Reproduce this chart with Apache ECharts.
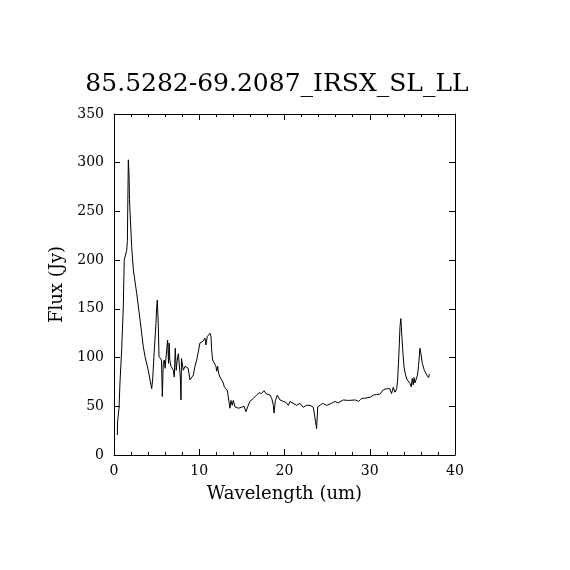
<!DOCTYPE html>
<html>
<head>
<meta charset="utf-8">
<script src="https://cdn.jsdelivr.net/npm/echarts@6/dist/echarts.min.js"></script>
<style>
html,body{margin:0;padding:0;background:#fff;}
#c{width:570px;height:570px;}
</style>
</head>
<body>
<div id="c"></div>
<script>
var titleText = "85.5282-69.2087_IRSX_SL_LL";
var xLabel = "Wavelength (um)";
var yLabel = "Flux (Jy)";
var wavelength = [
0.39,0.42,0.59,0.70,0.90,1.09,1.20,1.49,1.57,1.68,1.76,1.82,1.96,2.07,2.27,2.66,3.05,3.44,3.64,4.02,
4.42,4.53,4.73,4.92,5.00,5.08,5.20,5.28,5.46,5.57,5.67,5.78,5.90,6.00,6.18,6.29,6.40,6.47,6.55,6.69,
6.80,6.96,7.07,7.19,7.30,7.42,7.55,7.66,7.78,7.86,7.92,8.13,8.33,8.50,8.70,8.91,9.10,9.30,9.50,9.70,
9.89,10.08,10.27,10.47,10.67,10.78,10.94,11.10,11.26,11.38,11.45,11.57,11.73,11.96,12.04,12.16,12.27,12.43,12.63,12.82,
12.94,13.14,13.30,13.48,13.60,13.72,13.87,13.99,14.19,14.58,14.97,15.25,15.48,15.68,15.94,16.34,16.73,17.04,17.30,17.60,
17.83,18.03,18.30,18.50,18.69,18.77,18.93,19.16,19.47,19.86,20.17,20.45,20.65,21.03,21.42,21.80,22.20,22.59,22.99,23.38,
23.60,23.77,23.90,24.16,24.47,24.94,25.50,25.90,26.30,26.90,27.50,28.30,28.70,29.04,29.60,30.10,30.42,30.80,31.20,31.60,
31.98,32.17,32.37,32.56,32.76,32.95,33.16,33.27,33.39,33.55,33.65,33.77,33.90,34.02,34.20,34.40,34.55,34.71,34.87,34.98,
35.10,35.20,35.30,35.50,35.60,35.73,35.89,36.00,36.17,36.40,36.70,36.90,37.00
];
var flux = [
20.5,34,48,74,108,152,200,210,220,303,289,262,263,214,190,166,139,111,101,87,
68,77,108,135,151,159,132,101,99,97.5,60,94,97.5,89,108,118,94,115,97.5,91,
92,87,80,109.5,87,97.5,104,105,80,56.5,99,87,91,92,89,77,77,82,91,97.5,
106,115,117,117,120,113,121.5,123,125,121.5,108,97.5,96,91,86,91,84,80,77,74,
70,68,66,55,48,56,51,56,49.5,48,49,50,44.5,49.5,55,58,61.5,64,63,66,
63,65,61.5,58,51,43,56,61.5,56.5,55,54,51,55,53,51,53,49,51,51,49,
49.5,27,49.5,51,53,51,53,55,53.5,56.5,56,56.5,55,58,58.5,59.5,61.5,62,62.5,67,
68,69,68,63,69.5,64.5,68,77,97.5,132,140,121.5,104,90.5,82,77,78.5,73.6,70,78.5,
72,79.5,74,75,82,92,109.5,104,94,87,82,79.5,83
];
var xTicks = {min:0, max:40, interval:10};
var yTicks = {min:0, max:350, interval:50};

var seriesData = wavelength.map(function(w,i){return [w, flux[i]];});
var font = "DejaVu Serif";
var chart = echarts.init(document.getElementById('c'), null, {renderer:'canvas'});
var axisLine = {show:true, onZero:false, lineStyle:{color:'#000', width:1}};
chart.setOption({
  animation:false,
  backgroundColor:'#fff',
  title:{text:titleText, left:272, top:67, textAlign:'center',
    textStyle:{fontFamily:font, fontSize:25, fontWeight:'normal', color:'#000'}},
  grid:{left:114, right:115, top:114, bottom:115, show:false},
  xAxis:[{
    type:'value', position:'bottom', min:xTicks.min, max:xTicks.max, interval:xTicks.interval,
    axisLine:axisLine,
    axisTick:{show:true, inside:true, length:6, lineStyle:{color:'#000'}},
    minorTick:{show:true, splitNumber:5, length:3, lineStyle:{color:'#000'}},
    splitLine:{show:false},
    axisLabel:{fontFamily:font, fontSize:14, color:'#000', margin:9},
    name:xLabel, nameLocation:'middle', nameGap:30,
    nameTextStyle:{fontFamily:font, fontSize:18, color:'#000'}
  },{
    type:'value', position:'top', min:xTicks.min, max:xTicks.max, interval:xTicks.interval,
    axisLine:axisLine,
    axisTick:{show:true, inside:true, length:6, lineStyle:{color:'#000'}},
    minorTick:{show:true, splitNumber:5, length:3, lineStyle:{color:'#000'}},
    splitLine:{show:false}, axisLabel:{show:false}
  }],
  yAxis:[{
    type:'value', position:'left', min:yTicks.min, max:yTicks.max, interval:yTicks.interval,
    axisLine:axisLine,
    axisTick:{show:true, inside:true, length:6, lineStyle:{color:'#000'}},
    splitLine:{show:false},
    axisLabel:{fontFamily:font, fontSize:14, color:'#000', margin:10},
    name:yLabel, nameLocation:'middle', nameGap:48,
    nameTextStyle:{fontFamily:font, fontSize:18, color:'#000'}
  },{
    type:'value', position:'right', min:yTicks.min, max:yTicks.max, interval:yTicks.interval,
    axisLine:axisLine,
    axisTick:{show:true, inside:true, length:6, lineStyle:{color:'#000'}},
    splitLine:{show:false}, axisLabel:{show:false}
  }],
  series:[{
    type:'line', xAxisIndex:0, yAxisIndex:0, data:seriesData,
    showSymbol:false, symbol:'none',
    lineStyle:{color:'#000', width:1}
  }]
});
</script>
</body>
</html>
